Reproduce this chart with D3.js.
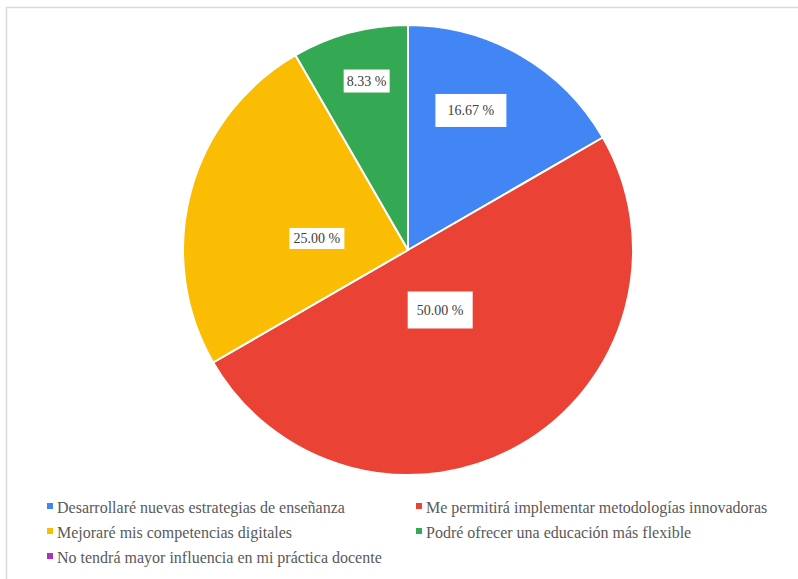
<!DOCTYPE html>
<html>
<head>
<meta charset="utf-8">
<script src="https://cdn.jsdelivr.net/npm/d3@7"></script>
<style>
  html, body { margin: 0; padding: 0; background: #fff; }
  svg { display: block; }
</style>
</head>
<body>
<svg id="chart" width="798" height="579"></svg>
<script>
// Survey answers (responses per option)
const categories = [
  "Desarrollaré nuevas estrategias de enseñanza",
  "Me permitirá implementar metodologías innovadoras",
  "Mejoraré mis competencias digitales",
  "Podré ofrecer una educación más flexible",
  "No tendrá mayor influencia en mi práctica docente"
];
const responses = [2, 6, 3, 1, 0];
const colors = ["#4285F4", "#EA4335", "#FBBC04", "#34A853", "#AB30C4"];

// Label placement: angle nudge (deg) and distance from centre, plus box padding
const labelNudgeDeg = [-5.8, 1.9, -7.8, 1.2, 0];
const labelDist = [153, 68, 92, 174, 0];
const labelPad = [[12, 9], [9, 11], [4, 3], [3, 4], [0, 0]]; // [horizontal, vertical]

const FONT = '"Liberation Serif"';
const svg = d3.select("#chart");

// frame
svg.append("rect")
  .attr("x", 6.5).attr("y", 7.5)
  .attr("width", 900).attr("height", 700)
  .attr("fill", "#fff")
  .attr("stroke", "#d9d9d9").attr("stroke-width", 1.5);

const cx = 408, cy = 250, r = 225;
const total = d3.sum(responses);

const pie = d3.pie().sort(null).value(d => d.value).startAngle(0).endAngle(2 * Math.PI);
const arc = d3.arc().innerRadius(0).outerRadius(r);

const data = categories.map((c, i) => ({ name: c, value: responses[i], color: colors[i], i }));
const arcs = pie(data);

const g = svg.append("g").attr("transform", `translate(${cx},${cy})`);

g.selectAll("path.slice")
  .data(arcs.filter(a => a.data.value > 0))
  .join("path")
  .attr("class", "slice")
  .attr("d", arc)
  .attr("fill", d => d.data.color)
  .attr("stroke", "#fff")
  .attr("stroke-width", 2)
  .attr("stroke-linejoin", "round");

// value labels in white boxes
const labels = g.selectAll("g.lbl")
  .data(arcs.filter(a => a.data.value > 0))
  .join("g")
  .attr("class", "lbl")
  .attr("transform", d => {
    const i = d.data.i;
    const a = (d.startAngle + d.endAngle) / 2 + labelNudgeDeg[i] * Math.PI / 180;
    const x = labelDist[i] * Math.sin(a);
    const y = -labelDist[i] * Math.cos(a);
    return `translate(${x},${y})`;
  });

labels.each(function(d) {
  const sel = d3.select(this);
  const txt = (d.data.value / total * 100).toFixed(2) + " %";
  const t = sel.append("text")
    .attr("text-anchor", "middle")
    .attr("dy", "0.35em")
    .style("font-family", FONT)
    .attr("font-size", 14)
    .attr("fill", "#404040")
    .text(txt);
  const bb = t.node().getBBox();
  const [ph, pv] = labelPad[d.data.i];
  sel.insert("rect", "text")
    .attr("x", bb.x - ph)
    .attr("y", -bb.height / 2 - pv)
    .attr("width", bb.width + 2 * ph)
    .attr("height", bb.height + 2 * pv)
    .attr("fill", "#fff");
});

// legend: two columns, filled row by row
const legendCols = [47, 416];
const legendRows = [513, 538, 563];
const legend = svg.append("g");
data.forEach((d, i) => {
  const x = legendCols[i % 2];
  const y = legendRows[Math.floor(i / 2)];
  legend.append("rect")
    .attr("x", x).attr("y", y - 10)
    .attr("width", 6).attr("height", 6)
    .attr("fill", d.color);
  legend.append("text")
    .attr("x", x + 10).attr("y", y)
    .style("font-family", FONT)
    .attr("font-size", 16)
    .attr("fill", "#595959")
    .text(d.name);
});
</script>
</body>
</html>
